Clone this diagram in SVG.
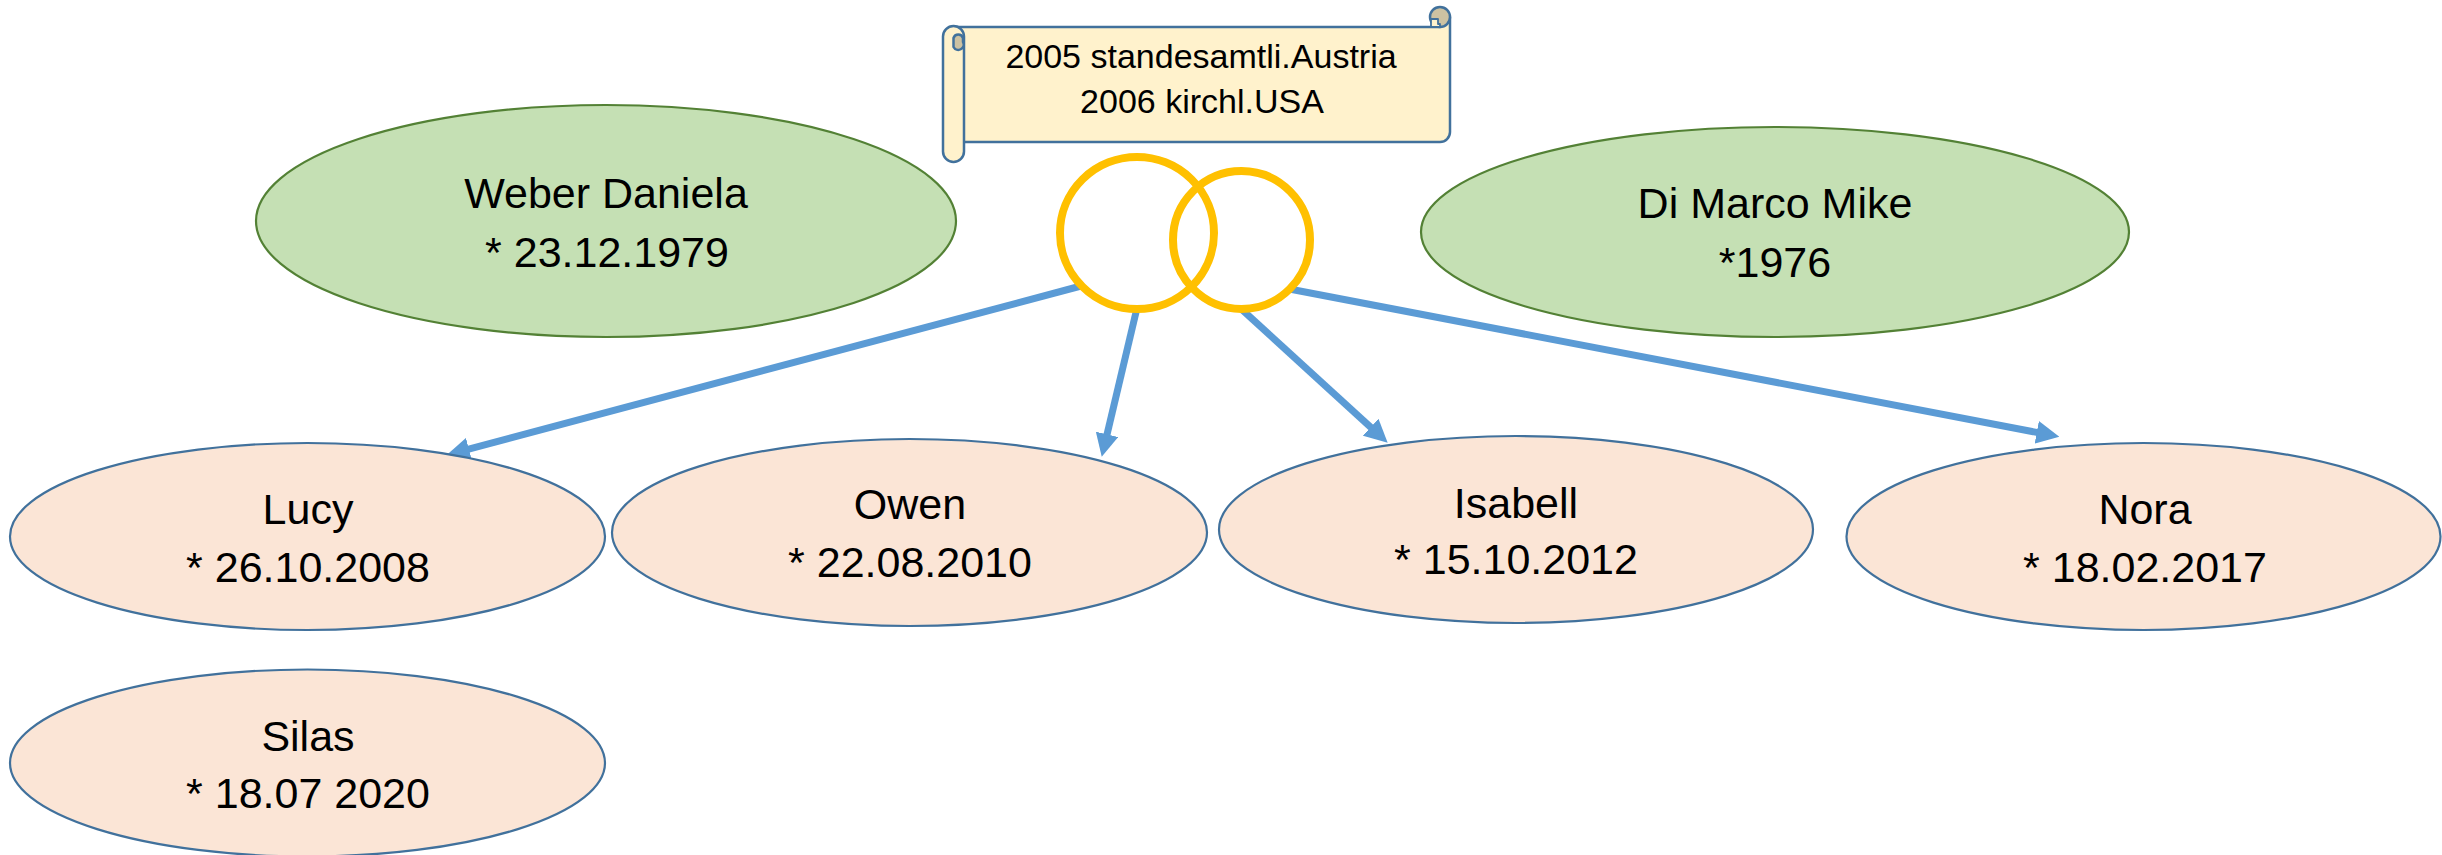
<svg xmlns="http://www.w3.org/2000/svg" width="2442" height="855" viewBox="0 0 2442 855">
<style>
  .parent { fill: #C5E0B4; stroke: #538135; stroke-width: 2.2; }
  .child { fill: #FBE5D6; stroke: #41719C; stroke-width: 2.2; }
  .lbl { font-family: "Liberation Sans", Arial, sans-serif; font-size: 43px; fill: #000000; text-anchor: middle; }
  .scrolltxt { font-family: "Liberation Sans", Arial, sans-serif; font-size: 34px; fill: #000000; text-anchor: middle; }
  .scroll { fill: #FFF2CC; stroke: #41719C; stroke-width: 2.5; stroke-linejoin: round; }
  .curl { fill: #CDC2A2; stroke: #41719C; stroke-width: 2.5; stroke-linejoin: round; }
  .ring { fill: none; stroke: #FFC000; stroke-width: 8; }
  .conn { stroke: #5B9BD5; stroke-width: 7; fill: none; marker-end: url(#arrow); }
</style>
<defs>
  <marker id="arrow" markerUnits="userSpaceOnUse" markerWidth="23" markerHeight="23" refX="8" refY="11.5" orient="auto" viewBox="0 0 23 23">
    <path d="M0,0 L23,11.5 L0,23 Z" fill="#5B9BD5"/>
  </marker>
</defs>
<rect x="0" y="0" width="2442" height="855" fill="#FFFFFF"/>

<g id="scroll">
  <path class="scroll" d="M953,27 L1440,27 L1440,17 A10,10 0 0 1 1450,17 L1450,132 A10,10 0 0 1 1440,142 L953,142 Z"/>
  <circle class="curl" cx="1440" cy="17" r="10"/>
  <path class="scroll" d="M1431,27 L1431,19 L1438,19 L1438,24 L1440,24 L1440,27 Z" style="stroke-width:1.8"/>
  <rect class="scroll" x="943" y="26" width="21" height="136" rx="10.5" ry="10.5"/>
  <path class="curl" d="M953.5,47 L953.5,38 A5,5 0 0 1 963,38 L963,42 A5,5 0 0 1 953.5,47 Z"/>
  <text class="scrolltxt" x="1201" y="68">2005 standesamtli.Austria</text>
  <text class="scrolltxt" x="1202" y="113">2006 kirchl.USA</text>
</g>

<g id="weber">
  <ellipse class="parent" cx="606" cy="221" rx="350" ry="116"/>
  <text class="lbl" x="606" y="208">Weber Daniela</text>
  <text class="lbl" x="607" y="267">* 23.12.1979</text>
</g>

<g id="dimarco">
  <ellipse class="parent" cx="1775" cy="232" rx="354" ry="105"/>
  <text class="lbl" x="1775" y="218">Di Marco Mike</text>
  <text class="lbl" x="1775" y="277">*1976</text>
</g>

<g id="connectors">
  <line class="conn" x1="1081" y1="286" x2="461.2" y2="451.1"/>
  <line class="conn" x1="1136.7" y1="309.3" x2="1105.2" y2="442.1"/>
  <line class="conn" x1="1241.7" y1="309.3" x2="1376.6" y2="432.6"/>
  <line class="conn" x1="1290.7" y1="289.3" x2="2044.6" y2="433.9"/>
</g>

<g id="rings">
  <ellipse class="ring" cx="1137" cy="233" rx="77" ry="76"/>
  <ellipse class="ring" cx="1241.5" cy="240" rx="68.5" ry="69"/>
</g>

<g id="lucy">
  <ellipse class="child" cx="307.5" cy="536.5" rx="297.5" ry="93.5"/>
  <text class="lbl" x="308" y="524">Lucy</text>
  <text class="lbl" x="308" y="582">* 26.10.2008</text>
</g>

<g id="owen">
  <ellipse class="child" cx="909.5" cy="532.5" rx="297.5" ry="93.5"/>
  <text class="lbl" x="910" y="519">Owen</text>
  <text class="lbl" x="910" y="577">* 22.08.2010</text>
</g>

<g id="isabell">
  <ellipse class="child" cx="1516" cy="529.5" rx="297" ry="93.5"/>
  <text class="lbl" x="1516" y="518">Isabell</text>
  <text class="lbl" x="1516" y="574">* 15.10.2012</text>
</g>

<g id="nora">
  <ellipse class="child" cx="2143.5" cy="536.5" rx="297" ry="93.5"/>
  <text class="lbl" x="2145" y="524">Nora</text>
  <text class="lbl" x="2145" y="582">* 18.02.2017</text>
</g>

<g id="silas">
  <ellipse class="child" cx="307.5" cy="763" rx="297.5" ry="93.5"/>
  <text class="lbl" x="308" y="751">Silas</text>
  <text class="lbl" x="308" y="808">* 18.07 2020</text>
</g>
</svg>
